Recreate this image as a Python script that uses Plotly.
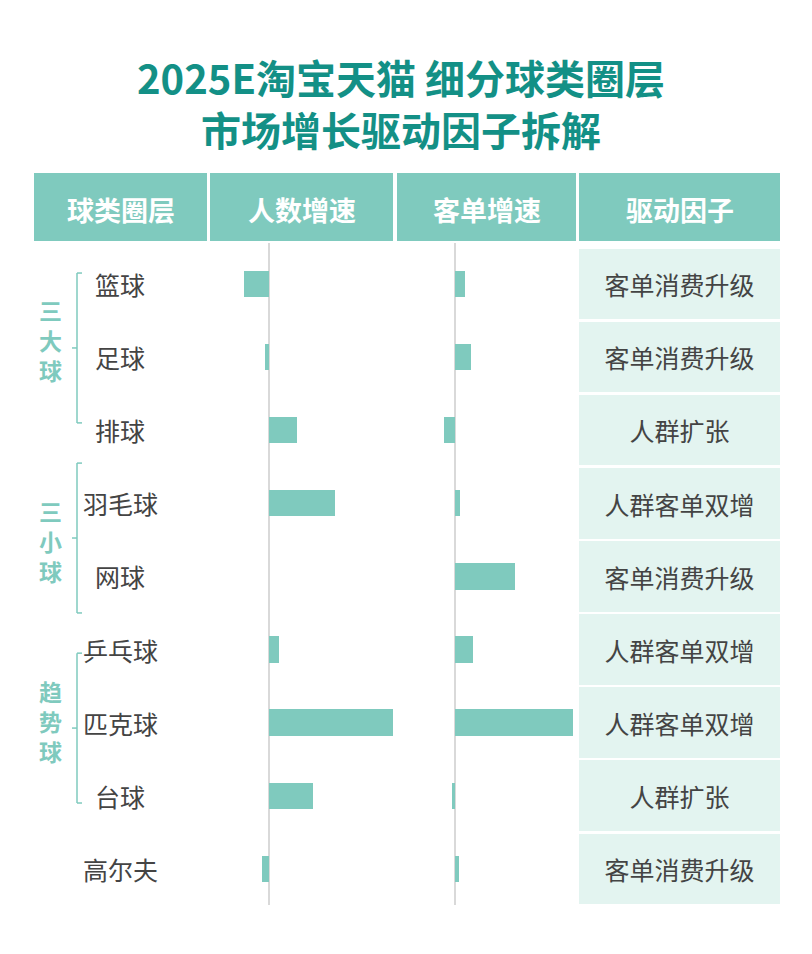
import plotly.graph_objects as go

# ---------------- data ----------------
categories = ["篮球", "足球", "排球", "羽毛球", "网球", "乒乓球", "匹克球", "台球", "高尔夫"]
people_growth = [-12.5, -2.0, 14.0, 33.0, 0.0, 5.0, 62.0, 22.0, -3.5]
spend_growth = [5.0, 8.0, -5.5, 2.5, 30.0, 9.0, 59.0, -1.5, 2.0]
drivers = ["客单消费升级", "客单消费升级", "人群扩张", "人群客单双增", "客单消费升级",
           "人群客单双增", "人群客单双增", "人群扩张", "客单消费升级"]
headers = ["球类圈层", "人数增速", "客单增速", "驱动因子"]
groups = ["三大球", "三小球", "趋势球"]

# ---------------- layout constants ----------------
W, H = 812, 954
TEAL = "#7fcabe"
TITLE_C = "#139086"
CELL_BG = "#e3f4f0"
TXT = "#444444"
FONT = "Noto Sans CJK SC"


def px(x):
    return x / W


def py(y):
    return (H - y) / H


row0, pitch = 284.0, 73.1
y_top, y_bot = 243, 905
yrange = [(y_bot - row0) / pitch, (y_top - row0) / pitch]

fig = go.Figure()
fig.add_trace(go.Bar(y=categories, x=people_growth, orientation="h", xaxis="x", yaxis="y",
                     marker=dict(color=TEAL, line=dict(width=0)), width=0.36,
                     hoverinfo="x+y"))
fig.add_trace(go.Bar(y=categories, x=spend_growth, orientation="h", xaxis="x2", yaxis="y",
                     marker=dict(color=TEAL, line=dict(width=0)), width=0.36,
                     hoverinfo="x+y"))
fig.add_trace(go.Bar(y=categories, x=[1] * len(categories), orientation="h", xaxis="x3", yaxis="y",
                     marker=dict(color=CELL_BG, line=dict(width=0)), width=0.965,
                     text=drivers, textposition="inside", insidetextanchor="middle",
                     constraintext="none",
                     insidetextfont=dict(family=FONT, size=25, color=TXT),
                     hoverinfo="text"))

scale = 2.0  # px per unit
z1, z2 = 269.0, 454.5
d1 = (210, 396)
d2 = (398, 577)
common_x = dict(showgrid=False, showticklabels=False, ticks="", showline=False,
                zeroline=True, zerolinecolor="#d9d9d9", zerolinewidth=2, fixedrange=True)

fig.update_layout(
    width=W, height=H, autosize=False,
    margin=dict(l=0, r=0, t=0, b=0),
    paper_bgcolor="white", plot_bgcolor="rgba(0,0,0,0)",
    showlegend=False, bargap=0,
    font=dict(family=FONT, color=TXT),
    xaxis=dict(domain=[px(d1[0]), px(d1[1])],
               range=[(d1[0] - z1) / scale, (d1[1] - z1) / scale], anchor="y", **common_x),
    xaxis2=dict(domain=[px(d2[0]), px(d2[1])],
                range=[(d2[0] - z2) / scale, (d2[1] - z2) / scale], anchor="y", **common_x),
    xaxis3=dict(domain=[px(579), px(780)], range=[0, 1], anchor="y",
                showgrid=False, showticklabels=False, zeroline=False, showline=False),
    yaxis=dict(domain=[py(y_bot), py(y_top)], type="category",
               categoryorder="array", categoryarray=categories,
               range=yrange, showgrid=False, showticklabels=False, ticks="",
               zeroline=False, showline=False, anchor="x"),
)

annotations = []
shapes = []

# title
annotations.append(dict(xref="paper", yref="paper", x=px(401), y=py(103),
                        xanchor="center", yanchor="middle", showarrow=False,
                        text="<b>2025E淘宝天猫 细分球类圈层<br>市场增长驱动因子拆解</b>",
                        font=dict(family=FONT, size=40, color=TITLE_C)))

# header
cols = [(34, 207), (210, 393), (397, 576), (579, 780)]
for (x0, x1), h in zip(cols, headers):
    shapes.append(dict(type="rect", xref="paper", yref="paper",
                       x0=px(x0), x1=px(x1), y0=py(241), y1=py(173),
                       fillcolor=TEAL, line=dict(width=0), layer="below"))
    annotations.append(dict(xref="paper", yref="paper", x=px((x0 + x1) / 2), y=py(209),
                            xanchor="center", yanchor="middle", showarrow=False,
                            text=f"<b>{h}</b>",
                            font=dict(family=FONT, size=27, color="white")))

# category labels
for c in categories:
    annotations.append(dict(xref="paper", yref="y", x=px(120), y=c,
                            xanchor="center", yanchor="middle", showarrow=False,
                            text=c, font=dict(family=FONT, size=25, color=TXT)))

# group brackets and labels
spans = [(-0.15, 1.90, 0.77), (2.45, 4.50, 3.52), (5.05, 7.10, 5.98)]
bx, serif, tick = px(77), px(82), px(72)
for g, (a, b, lab) in zip(groups, spans):
    m = (a + b) / 2
    shapes.append(dict(type="line", xref="paper", yref="y", x0=bx, x1=bx, y0=a, y1=b,
                       line=dict(color=TEAL, width=1.5)))
    shapes.append(dict(type="line", xref="paper", yref="y", x0=bx, x1=serif, y0=a, y1=a,
                       line=dict(color=TEAL, width=1.5)))
    shapes.append(dict(type="line", xref="paper", yref="y", x0=bx, x1=serif, y0=b, y1=b,
                       line=dict(color=TEAL, width=1.5)))
    shapes.append(dict(type="line", xref="paper", yref="y", x0=tick, x1=bx, y0=m, y1=m,
                       line=dict(color=TEAL, width=1.5)))
    annotations.append(dict(xref="paper", yref="y", x=px(50), y=lab,
                            xanchor="center", yanchor="middle", showarrow=False,
                            text="<b>" + "<br>".join(list(g)) + "</b>",
                            font=dict(family=FONT, size=23, color=TEAL)))

fig.update_layout(annotations=annotations, shapes=shapes)
fig.write_html("out.html")
